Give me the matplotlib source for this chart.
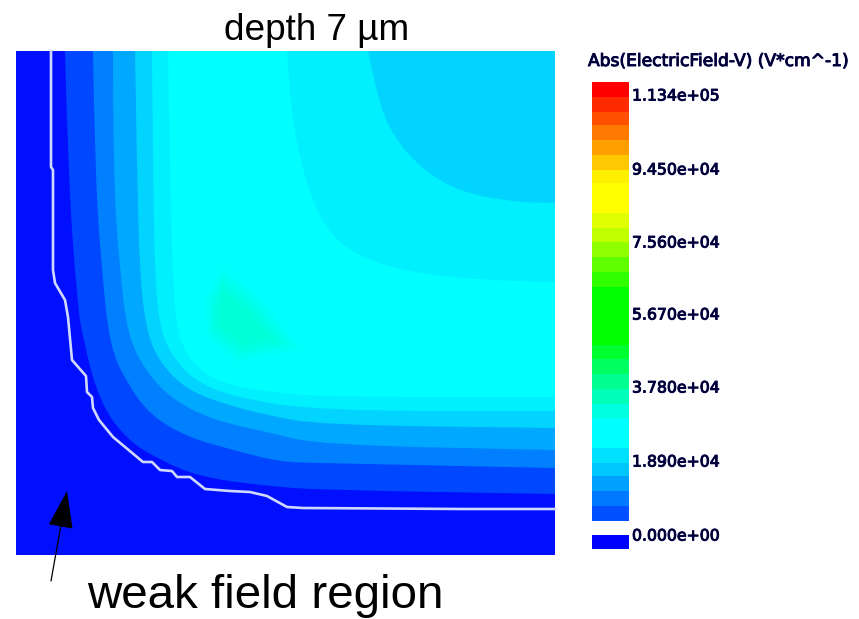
import matplotlib
matplotlib.use('Agg')
from matplotlib import pyplot as plt
from matplotlib.path import Path
from matplotlib.patches import PathPatch
import matplotlib.patheffects as pe

panel_x = [16, 555]
panel_y = [51, 555]
outer_color = '#0010ff'

# contours from the top edge round the corner to the right edge
band_colors = ['#0048ff', '#0080ff', '#00a8ff', '#00d4ff', '#00f0ff', '#00ffff']
band_x = [
    [65, 68, 77, 83, 100, 127, 160, 200, 267, 320, 555],
    [93, 95, 102, 110, 127, 150, 187, 233, 280, 320, 555],
    [113, 113, 120, 128, 147, 173, 213, 267, 320, 555],
    [135, 137, 140, 147, 160, 187, 227, 267, 320, 555],
    [152, 153, 155, 160, 170, 193, 233, 320, 555],
    [168, 170, 173, 177, 190, 213, 253, 320, 555],
]
band_y = [
    [51, 173, 300, 340, 403, 440, 460, 477, 486, 490, 494],
    [51, 173, 273, 347, 383, 415, 437, 450, 462, 463, 468],
    [51, 173, 273, 337, 373, 400, 420, 432, 445, 450],
    [51, 173, 280, 333, 363, 390, 405, 415, 425, 428],
    [51, 173, 280, 327, 353, 380, 397, 411, 411],
    [51, 173, 280, 333, 360, 380, 390, 397, 397],
]

corner_colors = ['#00f0ff', '#00d4ff']
corner_x = [
    [287, 290, 303, 323, 357, 413, 480, 555],
    [368, 377, 393, 423, 460, 513, 555],
]
corner_y = [
    [51, 107, 173, 227, 257, 273, 280, 282],
    [51, 97, 137, 170, 192, 202, 203],
]

# soft green patch, outer ring first
blob_colors = ['#00fff6', '#00ffee', '#00ffe6', '#00ffde', '#00ffd6']
blob_x = [
    [222, 206, 207, 236, 300, 258],
    [222, 209, 210, 238, 294, 256],
    [222, 212, 213, 240, 288, 254],
    [222, 215, 216, 242, 280, 252],
    [223, 219, 220, 244, 270, 250],
]
blob_y = [
    [268, 300, 335, 361, 349, 296],
    [273, 302, 333, 357, 346, 300],
    [279, 305, 331, 353, 344, 304],
    [285, 308, 329, 349, 342, 308],
    [292, 312, 327, 344, 339, 313],
]

weak_x = [51, 51, 53, 53, 55, 65, 68, 72, 86, 87, 92, 93, 99, 113, 143, 152, 160, 172, 177,
          190, 205, 230, 250, 267, 287, 303, 462, 555]
weak_y = [51, 167, 170, 270, 283, 300, 317, 360, 376, 392, 397, 408, 420, 437, 462, 462, 470, 471, 477,
          477, 489, 491, 492, 496, 507, 508, 509, 509]

step_top = [82, 97, 112, 125, 140, 155, 170, 183, 213, 228, 242, 257, 272, 287, 345, 359, 374, 389, 404, 418,
            448, 463, 476, 491, 506]
step_bottom = [97, 112, 125, 140, 155, 170, 183, 213, 228, 242, 257, 272, 287, 345, 359, 374, 389, 404, 418, 448,
               463, 476, 491, 506, 521]
step_colors = ['#ff0000', '#ff2a00', '#ff5000', '#ff7800', '#ffa000', '#ffc800', '#fff000', '#ffff00',
               '#e0ff00', '#c0ff00', '#90ff00', '#60ff00', '#30ff00', '#00ff00', '#00ff30', '#00ff60',
               '#00ff90', '#00ffb8', '#00ffe0', '#00ffff', '#00e0ff', '#00c8ff', '#00a0ff', '#0078ff',
               '#0050ff']
zero_step = [535, 549]
bar_x = [592, 629]

tick_labels = ['1.134e+05', '9.450e+04', '7.560e+04', '5.670e+04', '3.780e+04', '1.890e+04', '0.000e+00']
tick_y = [96, 170, 243, 315, 388, 462, 536]
legend_title = 'Abs(ElectricField-V) (V*cm^-1)'

fig = plt.figure(figsize=(8.59, 6.19), dpi=100)
ax = fig.add_axes([0, 0, 1, 1])
ax.set_xlim(0, 859)
ax.set_ylim(619, 0)
ax.axis('off')


def smooth_patch(xs, ys, color, z):
    # closed through the top right corner of the panel
    pts = list(zip(xs, ys))
    verts = [pts[0]]
    codes = [Path.MOVETO]
    for a, b in zip(pts[1:-1], pts[2:]):
        verts += [a, ((a[0] + b[0]) / 2, (a[1] + b[1]) / 2)]
        codes += [Path.CURVE3, Path.CURVE3]
    verts += [pts[-1], (panel_x[1], panel_y[0]), pts[0]]
    codes += [Path.LINETO, Path.LINETO, Path.CLOSEPOLY]
    ax.add_patch(PathPatch(Path(verts, codes), facecolor=color, edgecolor='none', zorder=z))


ax.fill([panel_x[0], panel_x[1], panel_x[1], panel_x[0]], [panel_y[0], panel_y[0], panel_y[1], panel_y[1]],
        color=outer_color, lw=0, zorder=1)
for i in range(len(band_colors)):
    smooth_patch(band_x[i], band_y[i], band_colors[i], 2 + i)
for i in range(len(corner_colors)):
    smooth_patch(corner_x[i], corner_y[i], corner_colors[i], 10 + i)
for i in range(len(blob_colors)):
    ax.fill(blob_x[i], blob_y[i], color=blob_colors[i], lw=0, zorder=15 + i)

ax.plot(weak_x, weak_y, color='#d0d8ff', lw=1.9, zorder=20, solid_joinstyle='round')

ax.barh([(t + b) / 2 for t, b in zip(step_top, step_bottom)], bar_x[1] - bar_x[0],
        height=[b - t for t, b in zip(step_top, step_bottom)], left=bar_x[0], color=step_colors, lw=0)
ax.barh((zero_step[0] + zero_step[1]) / 2, bar_x[1] - bar_x[0], height=zero_step[1] - zero_step[0],
        left=bar_x[0], color='#0000ff', lw=0)

fuzzy = [pe.withStroke(linewidth=0.7, foreground='#000050')]
for label, y in zip(tick_labels, tick_y):
    ax.text(632, y, label, fontsize=11.3, color='#000030', family='DejaVu Sans', va='center', path_effects=fuzzy)
ax.text(588, 61, legend_title, fontsize=12.3, color='#000030', family='DejaVu Sans', va='center', path_effects=fuzzy)

ax.text(317, 40, 'depth 7 µm', fontsize=26.6, family='Liberation Sans', ha='center', va='baseline')
ax.text(265, 608, 'weak field region', fontsize=34.2, family='Liberation Sans', ha='center', va='baseline')

ax.annotate('', xy=(67, 491), xytext=(51, 581), zorder=25,
            arrowprops=dict(arrowstyle='-|>,head_length=24,head_width=8', mutation_scale=1,
                            shrinkA=0, shrinkB=0, color='black', lw=0.9))

fig.savefig('out.png', dpi=100)
